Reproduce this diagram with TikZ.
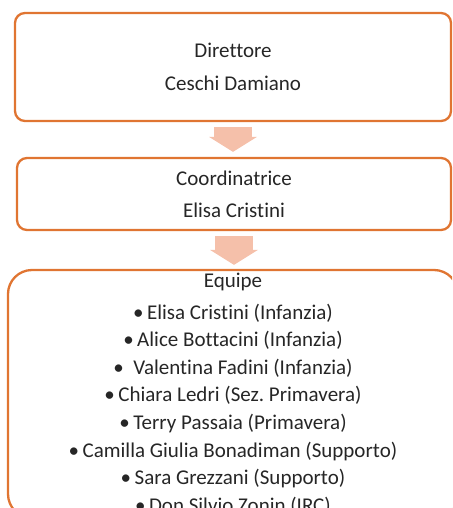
\documentclass[tikz,border=0pt]{standalone}
\usepackage{fontspec}
\setmainfont{Carlito}[Ligatures=NoCommon]
\usetikzlibrary{arrows.meta, positioning}
\definecolor{accentorange}{RGB}{224,117,50}
\definecolor{arrowpeach}{RGB}{245,192,170}

\begin{document}
\frenchspacing
\begin{tikzpicture}[
    x=1pt, y=-1pt,
    box/.style={
        rectangle, draw=accentorange, line width=2.3pt, rounded corners=10pt,
        align=center, text=black!85, inner sep=0pt,
        font=\fontsize{21}{33}\selectfont
    },
    flow/.style={
        line width=38pt, draw=arrowpeach,
        -{Triangle[width=48pt, length=15pt, line width=0pt]}
    },
    list/.style={font=\fontsize{21}{27.6}\selectfont, rounded corners=24pt}
]
    \useasboundingbox (0,0) rectangle (452,508);
    \clip (0,0) rectangle (452,508);
    % Nodes
    \node (dir) [box, minimum width=436pt, minimum height=108pt] at (233,67) {Direttore\\ Ceschi Damiano};
    \node (coord) [box, minimum width=434pt, minimum height=72pt, font=\fontsize{21}{32}\selectfont] at (234,194) {Coordinatrice\\ Elisa Cristini};
    \node (equipe) [box, list, minimum width=450pt, minimum height=248pt] at (233,394) {Equipe\\[4.4pt]
        •\,Elisa Cristini (Infanzia)\\
        •\,Alice Bottacini (Infanzia)\\
        •\ \ Valentina Fadini (Infanzia)\\
        •\,Chiara Ledri (Sez. Primavera)\\
        •\,Terry Passaia (Primavera)\\
        •\,Camilla Giulia Bonadiman (Supporto)\\
        •\,Sara Grezzani (Supporto)\\
        •\,Don Silvio Zonin (IRC)};
    % Connections
    \draw [flow, shorten <=5pt, shorten >=5pt] (dir.south) -- (dir.south |- coord.north);
    \draw [flow, shorten <=5pt, shorten >=4pt] (coord.south) -- (coord.south |- equipe.north);
\end{tikzpicture}
\end{document}
